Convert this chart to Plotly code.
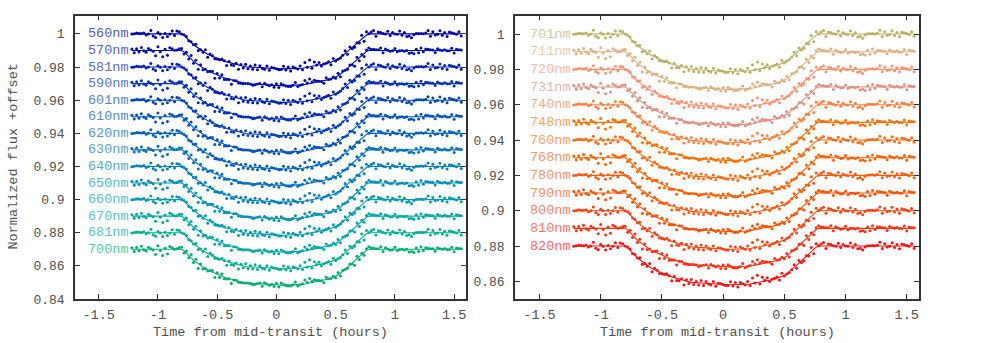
import numpy as np
import plotly.graph_objects as go

# observation times (hours from mid-transit), 0.02 h cadence
times = [round(-1.22 + 0.02 * k, 2) for k in range(140)]

# transit profile as a fraction of full depth
shape = ([0.0] * 22 +
         [0.04, 0.10, 0.17, 0.24, 0.31, 0.36, 0.41, 0.45, 0.50, 0.54,
          0.58, 0.61, 0.65, 0.68, 0.71, 0.73, 0.76, 0.78, 0.80, 0.82,
          0.84, 0.86, 0.88, 0.90, 0.92, 0.93, 0.94, 0.945, 0.95, 0.96,
          0.965, 0.97, 0.975, 0.98, 0.983, 0.986, 0.99, 0.993, 0.996, 1.0] +
         [1.0] * 8 +
         [0.995, 0.99, 0.98, 0.97, 0.958, 0.945, 0.93, 0.92, 0.905, 0.893,
          0.88, 0.87, 0.85, 0.83, 0.81, 0.785, 0.76, 0.72, 0.67, 0.62,
          0.56, 0.50, 0.44, 0.38, 0.31, 0.25, 0.19, 0.13, 0.07, 0.03] +
         [0.0] * 40)

# scatter about the model shared by all channels (units of 1e-4 flux)
resid = [4, -6, 8, -3, 10, 2, -8, 6,
         12, -8, -26, 15, -4, -30, 5, -22,
         8, 14, -4, 10, 12, 6,
         -5, 8, -10, 12, -6, 15, -20, 4, -8, 10, -12, 6, 9, -15, 5, -7, 12, -4, -14, 3,
         -18, -4, 6, -14, 4,
         -6, 8, -5, 3, -9, 7, -4, 10, -6, 2, 9, -7, 5, -3,
         6, -8, 4, 10, -5, 3, -9, 7, 12, -4,
         8, -3, 28, 4, 35, -2, 20, 6, 10, -4,
         -6, 9, 4, -8, 12, -5, 7, -10, 5, 8,
         -12, 10, -8, -22, 6, -18, 12, -25, 15, 8,
         10, 14, -5, 8, 12, -6, 4, 9, -7, 3,
         6, -5, 8, -4, 2, -8, -14, -18, -12, 5,
         -6, 9, -3, 7, 14, -5, 8, -9, 4, 11,
         -4, 7, -8, 5, 10, -6, 3, 9, -5]
# channel-to-channel scatter (units of 1e-4 flux)
jitter = [-5, 7, -3, 6, -8, 4, 2, -6, 9, -4, 5, -7, 3, 8, -2, 6, -9, 4, -5, 7,
          1, -6, 8, -3, 5, -8, 6, -2, 7, -5, 3, 9, -6, 2, -4, 8, -7, 5, -3, 6,
          -8, 4, 7, -5, 2, -9, 6, -3, 8, -6, 4, -2, 9, -7, 3, 5, -8, 6, -4, 2,
          7, -5, 3, -8, 6, -2, 9, -4, 5, -7, 2, 8, -6, 4, -3, 7, -9, 5, -2, 6,
          -4, 8, -6, 3, -7, 5, 2, -8, 6, -3, 9, -5, 4, -2, 7, -6, 3, 8, -4, 5,
          -7, 2, 6, -9, 4, -3, 8, -5, 7, -2, 5, -6, 3, 9, -4, 6, -8, 2, -5, 7,
          -3, 8, -6, 4, -2, 7, -9, 5, 3, -6, 8, -4, 2, -7, 6, -3, 9, -5, 4, -8]

wl_left = ["560nm", "570nm", "581nm", "590nm", "601nm", "610nm", "620nm",
           "630nm", "640nm", "650nm", "660nm", "670nm", "681nm", "700nm"]
base_left = [1.00, 0.99, 0.98, 0.97, 0.96, 0.95, 0.94,
             0.93, 0.92, 0.91, 0.90, 0.89, 0.88, 0.87]
depth_left = [0.0211, 0.0212, 0.0213, 0.0214, 0.0214, 0.0213, 0.0215,
              0.0214, 0.0215, 0.0216, 0.0215, 0.0216, 0.0217, 0.0216]

wl_right = ["701nm", "711nm", "720nm", "731nm", "740nm", "748nm", "760nm",
            "768nm", "780nm", "790nm", "800nm", "810nm", "820nm"]
base_right = [1.00, 0.99, 0.98, 0.97, 0.96, 0.95, 0.94,
              0.93, 0.92, 0.91, 0.90, 0.89, 0.88]
depth_right = [0.0212, 0.0213, 0.0214, 0.0214, 0.0215, 0.0215, 0.0216,
               0.0216, 0.0217, 0.0217, 0.0218, 0.0218, 0.0219]

col_left = ["#0000a8", "#0010b0", "#0020b4", "#0030b8", "#0040bc", "#0050c0", "#0060c0",
            "#0070c0", "#0080c0", "#0090b8", "#009cb0", "#00a8a8", "#00b090", "#00b070"]
col_right = ["#b8b060", "#e0b080", "#ff9070", "#e09080", "#ff8040", "#ff7000", "#ff6a10",
             "#ff6000", "#ff5a10", "#ff5000", "#ff4010", "#ff3010", "#ff1010"]

FONT = "Liberation Mono, Courier New, monospace"
GREY = "#505050"


def lighten(hexcol, f=0.35):
    r, g, b = (int(hexcol[i:i + 2], 16) for i in (1, 3, 5))
    r, g, b = (int(c + (255 - c) * f) for c in (r, g, b))
    return f"#{r:02x}{g:02x}{b:02x}"


t = np.array(times)
s = np.array(shape)
res = np.array(resid) * 1e-4
jit = np.array(jitter) * 1e-4

fig = go.Figure()
annotations = []

panels = [
    (wl_left, base_left, depth_left, col_left, "x", "y"),
    (wl_right, base_right, depth_right, col_right, "x2", "y2"),
]
for labels, bases, depths, cols, xa, ya in panels:
    for i, (lab, b0, d, c) in enumerate(zip(labels, bases, depths, cols)):
        model = b0 - d * s
        sign = 1 if i % 2 == 0 else -1
        flux = model + res + sign * jit
        fig.add_trace(go.Scatter(x=t, y=flux, mode="markers", xaxis=xa, yaxis=ya,
                                 marker=dict(size=3, color=c), showlegend=False))
        fig.add_trace(go.Scatter(x=t, y=model, mode="lines", xaxis=xa, yaxis=ya,
                                 line=dict(width=1.1, color=c), showlegend=False))
        annotations.append(dict(x=-1.225, y=b0, xref=xa, yref=ya, text=lab,
                                showarrow=False, xanchor="right", yanchor="middle",
                                font=dict(family=FONT, size=13.5, color=lighten(c))))

W, H = 981, 343
ydom = [(H - 299) / H, (H - 15.7) / H]

xticks = [-1.5, -1, -0.5, 0, 0.5, 1, 1.5]
xtext = ["-1.5", "-1", "-0.5", "0", "0.5", "1", "1.5"]


def axis_style(size, standoff):
    return dict(showline=True, linecolor="#333333", linewidth=1.5, mirror="ticks",
                ticks="inside", ticklen=5, tickcolor="#333333", showgrid=False,
                zeroline=False, automargin=False, ticklabelstandoff=standoff,
                tickfont=dict(family=FONT, size=size, color=GREY))


fig.update_layout(
    width=W, height=H,
    margin=dict(l=0, r=0, t=0, b=0, autoexpand=False),
    paper_bgcolor="white", plot_bgcolor="white",
    xaxis=dict(domain=[75 / W, 466 / W], range=[-1.7, 1.6], anchor="y",
               tickvals=xticks, ticktext=xtext, **axis_style(13.5, 2)),
    yaxis=dict(domain=ydom, range=[0.84, 1.011], anchor="x",
               tickvals=[0.84, 0.86, 0.88, 0.9, 0.92, 0.94, 0.96, 0.98, 1.0],
               ticktext=["0.84", "0.86", "0.88", "0.9", "0.92", "0.94", "0.96", "0.98", "1"],
               **axis_style(13, 6)),
    xaxis2=dict(domain=[515 / W, 919 / W], range=[-1.7, 1.6], anchor="y2",
                tickvals=xticks, ticktext=xtext, **axis_style(13.5, 2)),
    yaxis2=dict(domain=ydom, range=[0.85, 1.0104], anchor="x2",
                tickvals=[0.86, 0.88, 0.9, 0.92, 0.94, 0.96, 0.98, 1.0],
                ticktext=["0.86", "0.88", "0.9", "0.92", "0.94", "0.96", "0.98", "1"],
                **axis_style(13, 6)),
)

title_font = dict(family=FONT, size=13.5, color=GREY)
annotations += [
    dict(x=(75 + 466) / 2 / W, y=(H - 332) / H, xref="paper", yref="paper",
         text="Time from mid-transit (hours)", showarrow=False, font=title_font,
         xanchor="center", yanchor="middle"),
    dict(x=(515 + 919) / 2 / W, y=(H - 332) / H, xref="paper", yref="paper",
         text="Time from mid-transit (hours)", showarrow=False, font=title_font,
         xanchor="center", yanchor="middle"),
    dict(x=12.5 / W, y=(H - 157) / H, xref="paper", yref="paper",
         text="Normalized flux +offset", showarrow=False, font=title_font,
         textangle=-90, xanchor="center", yanchor="middle"),
]
fig.update_layout(annotations=annotations)

# drop the browser's default page margin so the figure sits at the window corner
fig.write_html("out.html", config={"displayModeBar": False},
               post_script="document.body.style.margin='0';")
